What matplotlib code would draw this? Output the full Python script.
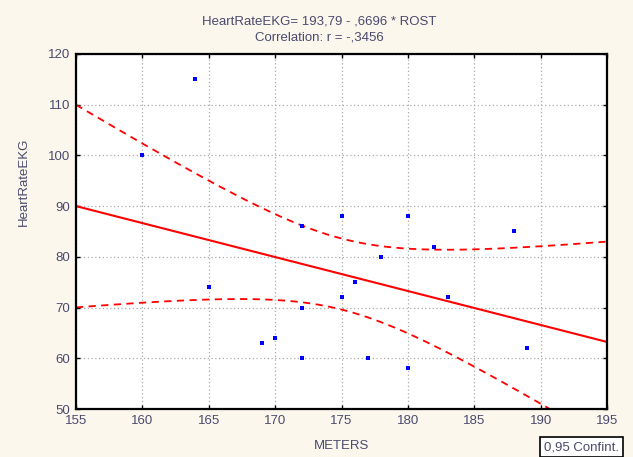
import numpy as np
import matplotlib
matplotlib.use("Agg")
import matplotlib.pyplot as plt

plt.rcParams['font.family'] = ['Liberation Sans', 'DejaVu Sans']

# data
meters = [160, 164, 165, 169, 170, 172, 172, 172, 175, 175, 176, 177, 178, 180, 180, 182, 183, 188, 189]
heart = [100, 115, 74, 63, 64, 70, 60, 86, 88, 72, 75, 60, 80, 88, 58, 82, 72, 85, 62]
intercept = 193.79
slope = -0.6696
t_crit = 2.110  # t(0.975, 17)

x = np.array(meters, dtype=float)
y = np.array(heart, dtype=float)
n = len(x)
resid = y - (intercept + slope * x)
s = np.sqrt(np.sum(resid ** 2) / (n - 2))
sxx = np.sum((x - x.mean()) ** 2)

xs = np.linspace(155, 195, 200)
fit = intercept + slope * xs
half = t_crit * s * np.sqrt(1.0 / n + (xs - x.mean()) ** 2 / sxx)

bg = '#fcf7ec'
txt = '#4a4a6e'

fig = plt.figure(figsize=(6.33, 4.57), dpi=100, facecolor=bg)
ax = fig.add_axes([0.120, 0.105, 0.839, 0.777])
ax.set_facecolor('white')

ax.grid(True, linestyle=(0, (1, 2)), color='#aaaaaa', linewidth=0.9)
ax.set_axisbelow(True)

ax.plot(xs, fit, color='red', linewidth=1.5)
ax.plot(xs, fit + half, color='red', linewidth=1.3, dashes=(4, 3))
ax.plot(xs, fit - half, color='red', linewidth=1.3, dashes=(4, 3))
ax.plot(meters, heart, 's', color='blue', markersize=2.6, markeredgewidth=0)

ax.set_xlim(155, 195)
ax.set_ylim(50, 120)
ax.set_xticks(range(155, 196, 5))
ax.set_yticks(range(50, 121, 10))
ax.tick_params(direction='in', length=3, width=1, labelsize=9.5, labelcolor=txt,
               top=True, right=True, pad=4)
for sp in ax.spines.values():
    sp.set_linewidth(1.6)
    sp.set_color('black')

ax.set_xlabel('METERS', fontsize=9.5, color=txt, labelpad=10)
ax.set_ylabel('HeartRateEKG', fontsize=9.5, color=txt)
ax.yaxis.set_label_coords(-0.087, 0.64)

fig.text(0.504, 0.954, 'HeartRateEKG= 193,79 - ,6696 * ROST', ha='center', va='center',
         fontsize=9.5, color=txt)
fig.text(0.504, 0.917, 'Correlation: r = -,3456', ha='center', va='center',
         fontsize=9.5, color=txt)

fig.text(0.918, 0.008, '0,95 Confint.', ha='center', va='bottom', fontsize=9.5, color=txt,
         bbox=dict(boxstyle='square,pad=0.3', facecolor='white', edgecolor='black', linewidth=1.2))

fig.savefig('out.png', dpi=100, facecolor=bg)
